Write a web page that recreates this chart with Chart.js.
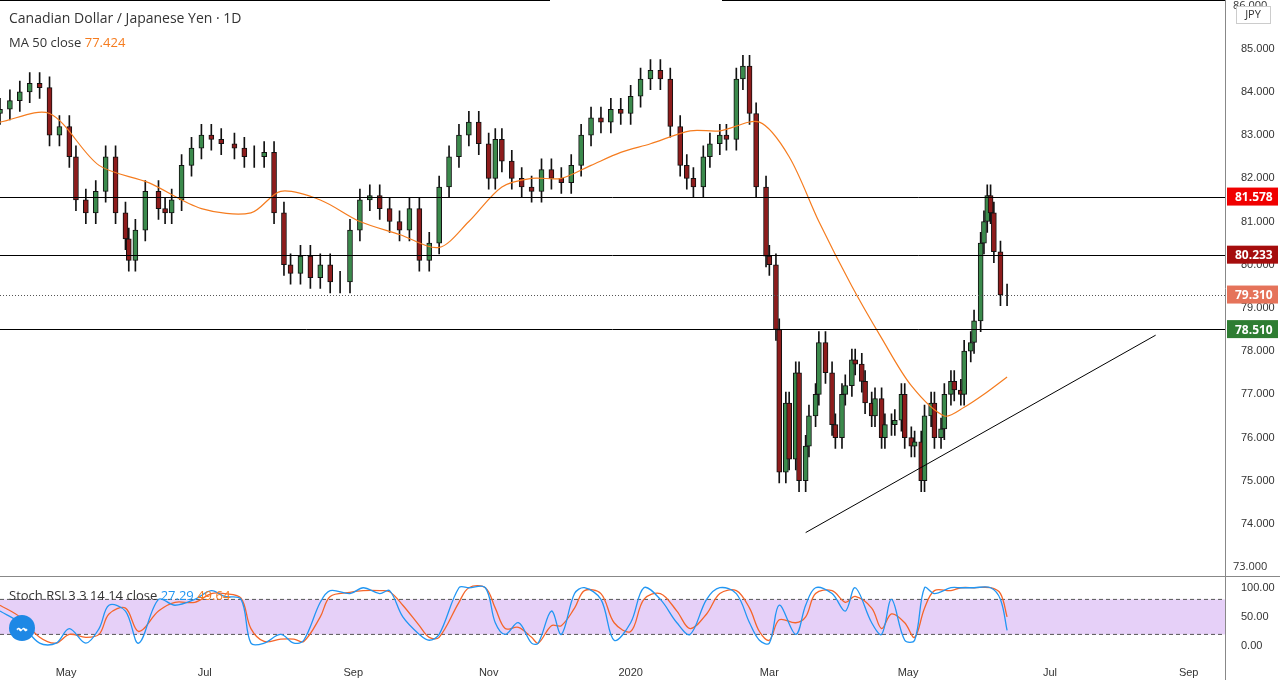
<!DOCTYPE html>
<html><head><meta charset="utf-8">
<script src="https://cdn.jsdelivr.net/npm/chart.js@4"></script>
<style>
body{margin:0;width:1280px;height:680px;background:#fff;font-family:"Open Sans",Arial,sans-serif;position:relative;overflow:hidden}
#c1{position:absolute;left:0;top:0}
#c2{position:absolute;left:0;top:568px}
.t{position:absolute;font-size:14px;color:#333;white-space:nowrap}
</style></head><body>
<canvas id="c2" width="1280" height="112"></canvas>
<canvas id="c1" width="1280" height="577"></canvas>
<div class="t" style="left:9px;top:8px">Canadian Dollar / Japanese Yen · 1D</div>
<div class="t" style="left:9px;top:33px;font-size:13px">MA 50 close <span style="color:#f57c1f">77.424</span></div>
<div class="t" style="left:9px;top:586px;font-size:13px">Stoch RSI 3 3 14 14 close <span style="color:#2196f3">27.29</span> <span style="color:#f57c1f">49.64</span></div>
<script>
// ---- data (trading-day index, close) ----
const priceDays=[0,3,6,9,12,15,18,21,23,26,29,32,35,38,39,41,44,48,50,52,55,58,61,64,67,71,74,77,80,83,86,88,91,94,97,100,103,106,109,112,115,118,121,124,127,130,133,136,139,142,145,148,150,152,155,158,161,164,167,170,173,176,179,182,185,188,191,194,197,200,203,206,208,210,213,215,218,220,223,225,227,229,232,233,235,236,238,239,241,242,244,245,247,248,250,252,253,255,256,258,259,261,262,264,265,267,268,270,271,273,274,276,277,279,280,282,283,285,286,288,289,291,292,294,295,297,298,299,300,301,303,305];
const closes=[83.6,83.8,84.0,84.2,84.1,83.0,83.2,82.5,81.5,81.2,81.7,82.5,81.2,80.6,80.1,80.8,81.7,81.3,81.2,81.5,82.3,82.7,83.0,82.9,82.8,82.7,82.5,82.5,82.6,81.2,80.0,79.8,80.2,79.7,80.0,79.6,79.6,80.8,81.5,81.6,81.3,81.0,80.8,81.3,80.1,80.5,81.8,82.5,83.0,83.3,82.8,82.0,82.9,82.4,82.0,81.8,81.7,82.2,82.0,81.9,82.3,83.0,83.4,83.3,83.6,83.5,83.9,84.3,84.5,84.3,83.2,82.3,82.0,81.8,82.5,82.8,83.0,82.9,84.3,84.6,83.5,81.8,80.2,80.0,78.5,75.2,76.8,75.5,77.5,75.0,75.8,76.5,77.0,78.2,77.5,76.3,76.0,77.0,77.2,77.8,77.7,77.3,76.8,76.5,76.9,76.0,76.3,76.3,76.4,77.0,76.0,75.8,75.9,75.0,76.5,76.8,76.0,76.2,77.0,77.3,77.1,77.0,78.0,78.2,78.7,80.5,81.0,81.6,81.2,80.3,79.3,79.3];
const maDays=[0,15,30,45,61,76,85,97,109,121,133,142,152,161,170,179,188,197,209,218,230,239,248,258,267,276,286,292,298,305];
const maValues=[83.3,83.5,82.3,81.9,81.3,81.2,81.7,81.5,81.0,80.7,80.4,81.0,81.8,82.0,82.0,82.3,82.6,82.8,83.1,83.1,83.3,82.5,81.0,79.5,78.3,77.2,76.5,76.7,77.0,77.4];
const levels=[81.578,80.233,78.510];
const lastPrice=79.310;
const trendline=[{x:244,y:73.8},{x:350,y:78.37}];
const rsiDays=[0,6,12,17,21,26,30,33,38,42,48,53,59,64,68,73,76,80,85,89,92,97,100,106,110,115,118,122,127,130,133,139,142,147,150,153,157,161,163,167,170,174,177,182,186,191,195,200,205,209,214,218,223,227,230,233,236,241,244,247,252,256,259,264,267,270,274,277,280,283,288,291,295,300,303,305];
const stochK=[60,40,5,5,30,5,30,70,60,5,80,70,80,95,85,80,5,5,20,5,10,75,95,90,100,90,95,50,20,10,20,100,100,100,40,20,40,5,5,60,20,90,100,80,10,40,100,80,40,20,80,100,90,40,10,5,70,20,70,100,90,60,100,40,20,80,10,10,100,90,100,100,100,100,80,27];
const stochD=[70,50,15,5,20,15,20,55,65,25,60,75,75,90,90,82,30,8,12,12,8,50,85,92,95,95,93,70,35,15,15,75,100,100,65,30,32,15,5,35,35,65,95,90,40,25,80,90,60,30,55,90,95,65,25,10,45,40,50,90,95,75,85,65,30,55,40,15,65,95,95,100,100,100,90,50];
const monthTicks=[20,62,107,148,191,233,275,318,360];
const monthLabels=["May","Jul","Sep","Nov","2020","Mar","May","Jul","Sep"];

// ---- candles ----
const bodies=[],wicks=[],bodyCol=[];
for(let i=0;i<closes.length;i++){
  const o=i?closes[i-1]:closes[i]-0.1, c=closes[i];
  bodies.push({x:priceDays[i],y:[o,c]});
  wicks.push({x:priceDays[i],y:[Math.min(o,c)-0.25,Math.max(o,c)+0.25]});
  bodyCol.push(c>=o?'#3b8a4c':'#8e1c1c');
}
const XMAX=371;
const fixW=s=>{s.width=55};
const lbl=(ctx,y,txt,bg)=>{ctx.fillStyle=bg;ctx.fillRect(1227,y-9,51,18);ctx.fillStyle='#fff';ctx.font='bold 12px "Open Sans"';ctx.textAlign='left';ctx.textBaseline='middle';ctx.fillText(txt,1235,y+1);};
const overlay={id:'ov',afterDatasetsDraw(ch){
  const ctx=ch.ctx,ys=ch.scales.y,xs=ch.scales.x;ctx.save();
  ctx.strokeStyle='#000';ctx.lineWidth=1;
  levels.forEach(v=>{const y=Math.round(ys.getPixelForValue(v))+0.5;ctx.beginPath();ctx.moveTo(0,y);ctx.lineTo(1225,y);ctx.stroke();});
  const yl=Math.round(ys.getPixelForValue(lastPrice))+0.5;ctx.setLineDash([1,2]);ctx.strokeStyle='#555';ctx.beginPath();ctx.moveTo(0,yl);ctx.lineTo(1225,yl);ctx.stroke();ctx.setLineDash([]);
  ctx.strokeStyle='#000';ctx.beginPath();ctx.moveTo(xs.getPixelForValue(trendline[0].x),ys.getPixelForValue(trendline[0].y));ctx.lineTo(xs.getPixelForValue(trendline[1].x),ys.getPixelForValue(trendline[1].y));ctx.stroke();
  ctx.beginPath();ctx.moveTo(1225.5,0);ctx.lineTo(1225.5,577);ctx.moveTo(0,576.5);ctx.lineTo(1280,576.5);ctx.strokeStyle='#888';ctx.stroke();
  ctx.strokeStyle='#000';ctx.beginPath();ctx.moveTo(0,0.5);ctx.lineTo(550,0.5);ctx.moveTo(722,0.5);ctx.lineTo(1225,0.5);ctx.stroke();
  lbl(ctx,ys.getPixelForValue(levels[0]),levels[0].toFixed(3),'#f00000');
  lbl(ctx,ys.getPixelForValue(levels[1]),levels[1].toFixed(3),'#a50d0d');
  lbl(ctx,ys.getPixelForValue(lastPrice),lastPrice.toFixed(3),'#e5735a');
  lbl(ctx,ys.getPixelForValue(levels[2]),levels[2].toFixed(3),'#2e7d32');
  ctx.fillStyle='#333';ctx.font='11px "Open Sans"';ctx.textAlign='left';ctx.textBaseline='middle';
  ctx.fillText('86.000',1233,ys.getPixelForValue(86));ctx.fillText('73.000',1233,ys.getPixelForValue(73));
  ctx.strokeStyle='#ccc';ctx.strokeRect(1236.5,6.5,34,17);ctx.fillStyle='#fff';ctx.fillRect(1237,7,33,16);
  ctx.fillStyle='#333';ctx.textAlign='center';ctx.fillText('JPY',1253,15);
  ctx.restore();}};
new Chart(document.getElementById('c1'),{
  data:{datasets:[
    {type:'bar',data:wicks,backgroundColor:'#111',barThickness:1,grouped:false,order:3},
    {type:'bar',data:bodies,backgroundColor:bodyCol,borderColor:'#111',borderWidth:1,borderSkipped:false,barThickness:5,grouped:false,order:2},
    {type:'line',data:maDays.map((d,i)=>({x:d,y:maValues[i]})),borderColor:'#f57c1f',borderWidth:1.2,pointRadius:0,tension:0.3,order:1}
  ]},
  options:{responsive:false,animation:false,layout:{padding:0},plugins:{legend:{display:false},tooltip:{enabled:false}},
    scales:{x:{type:'linear',min:0,max:XMAX,display:false,offset:false},
      y:{position:'right',min:73.11,max:85.79,afterFit:fixW,grid:{display:false},border:{display:false},
        afterBuildTicks(s){s.ticks=[74,75,76,77,78,79,80,81,82,83,84,85].map(v=>({value:v}));},
        ticks:{color:'#333',font:{size:11},padding:8,callback:v=>v.toFixed(3)}}}},
  plugins:[overlay]});
const ov2={id:'ov2',beforeDatasetsDraw(ch){const ctx=ch.ctx,ys=ch.scales.y,a=ch.chartArea;ctx.save();
  const y1=ys.getPixelForValue(80),y2=ys.getPixelForValue(20);ctx.fillStyle='rgba(200,150,240,0.45)';ctx.fillRect(a.left,y1,a.right-a.left,y2-y1);
  ctx.setLineDash([4,3]);ctx.strokeStyle='#555';[y1,y2].forEach(y=>{ctx.beginPath();ctx.moveTo(a.left,y);ctx.lineTo(a.right,y);ctx.stroke();});ctx.setLineDash([]);
  ctx.strokeStyle='#888';ctx.beginPath();ctx.moveTo(1225.5,0);ctx.lineTo(1225.5,112);ctx.stroke();ctx.restore();},
  afterDraw(ch){const ctx=ch.ctx;ctx.save();ctx.fillStyle='#1e88e5';ctx.beginPath();ctx.arc(22,60,13,0,7);ctx.fill();ctx.fillStyle='#fff';ctx.font='bold 10px sans-serif';ctx.textAlign='center';ctx.fillText('〰',22,64);ctx.restore();}};
new Chart(document.getElementById('c2'),{type:'line',
  data:{datasets:[
    {data:rsiDays.map((d,i)=>({x:d,y:stochK[i]})),borderColor:'#2196f3',borderWidth:1.3,pointRadius:0,tension:0.35},
    {data:rsiDays.map((d,i)=>({x:d,y:stochD[i]})),borderColor:'#f5652a',borderWidth:1.3,pointRadius:0,tension:0.35}]},
  options:{responsive:false,animation:false,layout:{padding:0},plugins:{legend:{display:false},tooltip:{enabled:false}},
    scales:{x:{type:'linear',min:0,max:XMAX,grid:{display:false},border:{display:false},afterFit(s){s.height=25},
        afterBuildTicks(s){s.ticks=monthTicks.map(v=>({value:v}));},
        ticks:{color:'#333',font:{size:11},maxRotation:0,autoSkip:false,callback:v=>monthLabels[monthTicks.indexOf(v)]}},
      y:{position:'right',min:-15.3,max:108.8,afterFit:fixW,grid:{display:false},border:{display:false},
        afterBuildTicks(s){s.ticks=[0,50,100].map(v=>({value:v}));},
        ticks:{color:'#333',font:{size:11},padding:8,callback:v=>v.toFixed(2)}}}},
  plugins:[ov2]});
</script></body></html>
